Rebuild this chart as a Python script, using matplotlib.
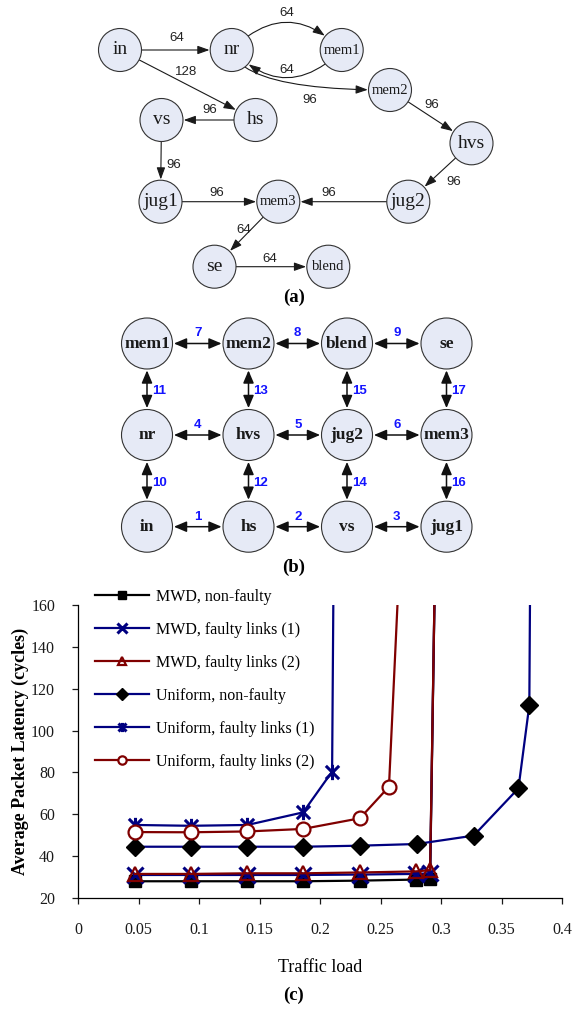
import matplotlib
matplotlib.use('Agg')
import matplotlib.pyplot as plt
from matplotlib.patches import Circle, FancyArrowPatch
from matplotlib.path import Path

plt.rcParams['font.family'] = ['Liberation Serif', 'DejaVu Serif']

W, H, DPI = 582, 1010, 100

# ---------------------------- data ----------------------------
# (a) application task graph
a_nodes = ['in', 'nr', 'mem1', 'mem2', 'hs', 'vs', 'hvs', 'jug1', 'mem3', 'jug2', 'se', 'blend']
a_edges = [('in', 'nr'), ('nr', 'mem1'), ('mem1', 'nr'), ('in', 'hs'), ('nr', 'mem2'),
           ('mem2', 'hvs'), ('hs', 'vs'), ('vs', 'jug1'), ('hvs', 'jug2'),
           ('jug1', 'mem3'), ('jug2', 'mem3'), ('mem3', 'se'), ('se', 'blend')]
a_weights = [64, 64, 64, 128, 96, 96, 96, 96, 96, 96, 96, 64, 64]

# (b) mapping onto 4x3 mesh
b_grid = [['mem1', 'mem2', 'blend', 'se'],
          ['nr', 'hvs', 'jug2', 'mem3'],
          ['in', 'hs', 'vs', 'jug1']]
b_h_links = [[7, 8, 9], [4, 5, 6], [1, 2, 3]]
b_v_links = [[11, 13, 15, 17], [10, 12, 14, 16]]

# (c) latency vs traffic load
series_labels = ['MWD, non-faulty', 'MWD, faulty links (1)', 'MWD, faulty links (2)',
                 'Uniform, non-faulty', 'Uniform, faulty links (1)', 'Uniform, faulty links (2)']
load_mwd = [0.047, 0.093, 0.14, 0.186, 0.233, 0.279, 0.291, 0.297]
mwd_nonfaulty = [28.0, 28.0, 28.0, 28.0, 28.3, 28.8, 29.0, 250]
mwd_faulty1 = [31.0, 31.0, 31.0, 31.0, 31.2, 31.5, 31.8, 250]
mwd_faulty2 = [31.5, 31.5, 31.8, 31.8, 32.2, 32.7, 33.3, 250]
load_uni_nf = [0.047, 0.093, 0.14, 0.186, 0.233, 0.28, 0.327, 0.364, 0.373, 0.3745]
uni_nonfaulty = [44.5, 44.5, 44.5, 44.5, 45.0, 45.8, 49.8, 72.4, 112.2, 250]
load_uni_f1 = [0.047, 0.093, 0.14, 0.186, 0.21, 0.2115]
uni_faulty1 = [54.9, 54.5, 54.9, 60.9, 80.4, 200]
load_uni_f2 = [0.047, 0.093, 0.14, 0.186, 0.233, 0.257, 0.27]
uni_faulty2 = [51.5, 51.4, 51.8, 53.0, 58.1, 73.2, 234]
x_ticks = [0, 0.05, 0.1, 0.15, 0.2, 0.25, 0.3, 0.35, 0.4]
x_ticklabels = ['0', '0.05', '0.1', '0.15', '0.2', '0.25', '0.3', '0.35', '0.4']
y_ticks = [20, 40, 60, 80, 100, 120, 140, 160]

# ---------------------------- layout / style ----------------------------
FILL = '#E6EAF6'
EDGE = '#333333'
BLUE = '#000080'
RED = '#800000'

a_pos = {'in': (120, 50), 'nr': (231.7, 50), 'mem1': (341.7, 50), 'mem2': (390, 90),
         'hs': (255.5, 120), 'vs': (161.5, 120), 'hvs': (471.5, 143.3),
         'jug1': (160.5, 201.7), 'mem3': (278.3, 201.7), 'jug2': (408.3, 201.7),
         'se': (214.5, 266.7), 'blend': (328.3, 266.7)}
a_small = {'mem1', 'mem2', 'mem3', 'blend'}
a_label_pos = [(176.7, 38), (287, 13.3), (287, 70), (186, 71.7), (310, 100), (431.7, 105),
               (210, 110), (173.3, 165), (453.3, 181.7), (216.7, 192.7), (328.3, 192.7),
               (243.3, 230), (270, 259.3)]
a_conn = {('nr', 'mem1'): 'arc3,rad=-0.5', ('mem1', 'nr'): 'arc3,rad=-0.5',
          ('nr', 'mem2'): 'angle3,angleA=-75,angleB=0'}
A_R = 21.5

b_cols = [147, 248.5, 347, 446.5]
b_rows = [343.5, 435, 526.7]
B_R = 25.5

fig = plt.figure(figsize=(W / DPI, H / DPI), dpi=DPI)
dax = fig.add_axes([0, 0, 1, 1])
dax.set_xlim(0, W)
dax.set_ylim(H, 0)
dax.axis('off')

# ---------------- (a) ----------------
for (s, t), w, lp in zip(a_edges, a_weights, a_label_pos):
    arr = FancyArrowPatch(a_pos[s], a_pos[t],
                          arrowstyle='-|>,head_length=0.9,head_width=0.32',
                          connectionstyle=a_conn.get((s, t), 'arc3,rad=0'),
                          shrinkA=A_R * 0.72, shrinkB=A_R * 0.72 + 0.5,
                          mutation_scale=8, lw=0.8, color='#1a1a1a', zorder=2)
    dax.add_patch(arr)
    dax.text(lp[0], lp[1], str(w), ha='center', va='center', fontsize=9.5,
             family=['Liberation Sans', 'DejaVu Sans'], color='#222222')

for n in a_nodes:
    x, y = a_pos[n]
    dax.add_patch(Circle((x, y), A_R, fc=FILL, ec=EDGE, lw=0.8, zorder=3))
    dax.text(x, y, n, ha='center', va='center', zorder=4, color='#1a1a1a',
             fontsize=10.5 if n in a_small else 14)

dax.text(294, 297, '(a)', ha='center', va='center', fontsize=13.5, fontweight='bold')

# ---------------- (b) ----------------
bstyle = '<|-|>,head_length=0.9,head_width=0.38'
for r, row in enumerate(b_grid):
    for c in range(3):
        x0, x1, y = b_cols[c], b_cols[c + 1], b_rows[r]
        dax.add_patch(FancyArrowPatch((x0, y), (x1, y), arrowstyle=bstyle,
                                      shrinkA=B_R * 0.72 + 1, shrinkB=B_R * 0.72 + 1,
                                      mutation_scale=8.5, lw=1.1, color='#111111', zorder=2))
        dax.text((x0 + x1) / 2, y - 10, str(b_h_links[r][c]), ha='center', va='center',
                 fontsize=9.5, fontweight='bold', color='#1414FF',
                 family=['Liberation Sans', 'DejaVu Sans'])
for r in range(2):
    for c in range(4):
        x, y0, y1 = b_cols[c], b_rows[r], b_rows[r + 1]
        dax.add_patch(FancyArrowPatch((x, y0), (x, y1), arrowstyle=bstyle,
                                      shrinkA=B_R * 0.72 + 1, shrinkB=B_R * 0.72 + 1,
                                      mutation_scale=8.5, lw=1.1, color='#111111', zorder=2))
        dax.text(x + 5, (y0 + y1) / 2 + 2, str(b_v_links[r][c]), ha='left', va='center',
                 fontsize=9.5, fontweight='bold', color='#1414FF',
                 family=['Liberation Sans', 'DejaVu Sans'])
for r, row in enumerate(b_grid):
    for c, n in enumerate(row):
        x, y = b_cols[c], b_rows[r]
        dax.add_patch(Circle((x, y), B_R, fc=FILL, ec=EDGE, lw=0.8, zorder=3))
        dax.text(x, y, n, ha='center', va='center', zorder=4, fontsize=12.5,
                 fontweight='bold', color='#1a1a1a')

dax.text(294, 567, '(b)', ha='center', va='center', fontsize=13.5, fontweight='bold')

# ---------------- (c) ----------------
L, R, T, B = 78, 562, 605, 898
ax = fig.add_axes([L / W, 1 - B / H, (R - L) / W, (B - T) / H])
ax.set_xlim(0, 0.4)
ax.set_ylim(20, 160)
for sp in ('top', 'right'):
    ax.spines[sp].set_visible(False)
for sp in ('left', 'bottom'):
    ax.spines[sp].set_linewidth(0.9)

asterisk = Path([(-1, -1), (1, 1), (-1, 1), (1, -1), (0, -1.15), (0, 1.15)],
                [Path.MOVETO, Path.LINETO, Path.MOVETO, Path.LINETO, Path.MOVETO, Path.LINETO])

lw = 1.6
h1, = ax.plot(load_mwd, mwd_nonfaulty, color='black', lw=lw, marker='s', ms=9,
              mfc='black', mec='black', label=series_labels[0])
h2, = ax.plot(load_mwd, mwd_faulty1, color=BLUE, lw=lw, marker='x', ms=11, mew=2.2,
              mec=BLUE, label=series_labels[1])
h3, = ax.plot(load_mwd, mwd_faulty2, color=RED, lw=lw, marker='^', ms=10, mew=1.6,
              mfc='none', mec=RED, label=series_labels[2])
h4, = ax.plot(load_uni_nf, uni_nonfaulty, color=BLUE, lw=lw, marker='D', ms=9.5,
              mfc='black', mec='black', label=series_labels[3])
h5, = ax.plot(load_uni_f1, uni_faulty1, color=BLUE, lw=lw, marker=asterisk, ms=11, mew=2.2,
              mfc='none', mec=BLUE, label=series_labels[4])
h6, = ax.plot(load_uni_f2, uni_faulty2, color=RED, lw=lw, marker='o', ms=10, mew=1.6,
              mfc='white', mec=RED, label=series_labels[5])

ax.set_xticks(x_ticks)
ax.set_xticklabels(x_ticklabels)
ax.set_yticks(y_ticks)
ax.tick_params(axis='both', direction='out', length=4, width=0.9, labelsize=11.5,
               colors='#1a1a1a')
ax.tick_params(axis='x', pad=13)
ax.tick_params(axis='y', pad=12.5)

ax.set_ylabel('Average Packet Latency (cycles)', fontsize=13, fontweight='bold')
ax.yaxis.set_label_coords((20 - L) / (R - L), 0.5)
ax.yaxis.label.set_verticalalignment('center')
ax.set_xlabel('Traffic load', fontsize=13)
ax.xaxis.set_label_coords(0.5, (B - 967) / (B - T))
ax.xaxis.label.set_verticalalignment('center')

ax.legend(handles=[h1, h2, h3, h4, h5, h6], loc='upper left',
          bbox_to_anchor=(95 / W, 1 - 589 / H), bbox_transform=fig.transFigure,
          frameon=False, borderpad=0, borderaxespad=0, handlelength=3.4,
          handletextpad=0.4, labelspacing=1.06, markerscale=0.6, fontsize=11.5)

dax.text(294, 995, '(c)', ha='center', va='center', fontsize=13.5, fontweight='bold')

fig.savefig('out.png', dpi=DPI)
